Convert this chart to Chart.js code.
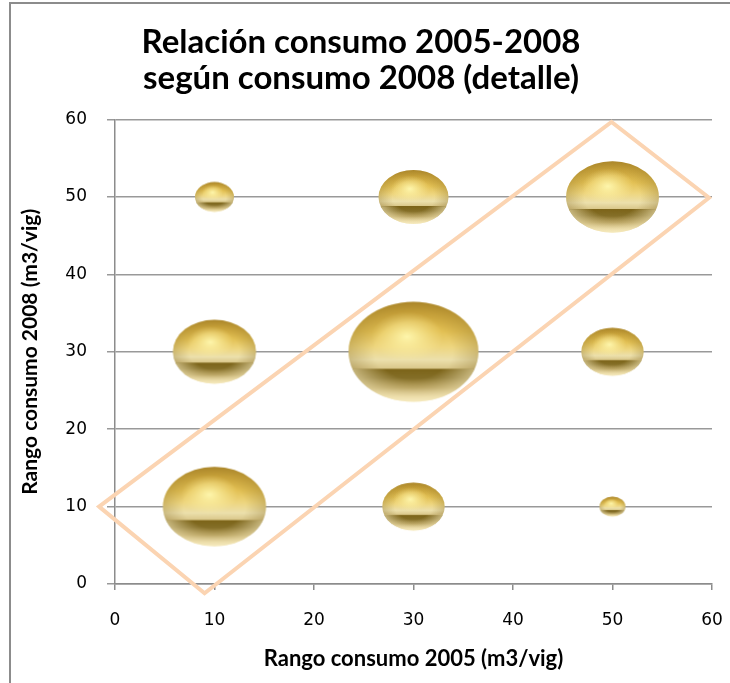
<!DOCTYPE html>
<html>
<head>
<meta charset="utf-8">
<script src="https://cdn.jsdelivr.net/npm/chart.js@4/dist/chart.umd.min.js"></script>
<style>
  html, body { margin: 0; padding: 0; background: #fff; overflow: hidden; }
  #wrap { position: relative; width: 730px; height: 683px; overflow: hidden; }
  #frame { position: absolute; left: 9px; top: 2px; width: 900px; height: 900px;
           border-left: 2px solid #8c8c8c; border-top: 2px solid #8c8c8c; }
  canvas { position: absolute; left: 0; top: 0; }
</style>
</head>
<body>
<div id="wrap">
  <div id="frame"></div>
  <canvas id="chart" width="730" height="683"></canvas>
</div>
<script>
// Bubble data: rango consumo 2005 (x), rango consumo 2008 (y), tamaño relativo
var consumo2005 = [10, 30, 50, 10, 30, 50, 10, 30, 50];
var consumo2008 = [50, 50, 50, 30, 30, 30, 10, 10, 10];
var tamano = [9, 29, 51, 41, 100, 23, 63, 23, 4];

// Marco diagonal (detalle) in axis units
var marcoX = [-1.6, 9, 59.7, 49.9, -1.6, 9];
var marcoY = [10, -1.2, 49.9, 59.7, 10, -1.2];

var ticksEje = [0, 10, 20, 30, 40, 50, 60];

var maxRadio = 65;     // px, horizontal radius of the biggest bubble
var aspecto = 0.77;    // bubbles look like flattened ellipses

function makeBubble(rx, ry) {
    var c = document.createElement('canvas');
    c.width = Math.ceil(rx * 2) + 2;
    c.height = Math.ceil(ry * 2) + 2;
    var g = c.getContext('2d');
    var cx = c.width / 2, cy = c.height / 2;
    var corte = cy - ry + 0.67 * 2 * ry; // where the dark band starts

    g.save();
    g.beginPath();
    g.ellipse(cx, cy, rx, ry, 0, 0, Math.PI * 2);
    g.clip();

    var lg = g.createLinearGradient(0, cy - ry, 0, cy + ry);
    lg.addColorStop(0, '#bf9731');
    lg.addColorStop(0.12, '#d1aa3e');
    lg.addColorStop(0.3, '#e3c155');
    lg.addColorStop(0.45, '#eed67f');
    lg.addColorStop(0.58, '#ece0ac');
    lg.addColorStop(0.665, '#dac88b');
    lg.addColorStop(0.675, '#7c6419');
    lg.addColorStop(0.76, '#846e27');
    lg.addColorStop(0.86, '#ad954e');
    lg.addColorStop(0.95, '#e6d59e');
    lg.addColorStop(1, '#f7edc6');
    g.fillStyle = lg;
    g.fillRect(0, 0, c.width, c.height);

    // highlight
    g.save();
    g.translate(cx - 0.1 * rx, cy - 0.3 * ry);
    g.scale(1, 0.7);
    var rg = g.createRadialGradient(0, 0, 0, 0, 0, rx * 0.55);
    rg.addColorStop(0, 'rgba(255,248,175,0.95)');
    rg.addColorStop(1, 'rgba(255,240,160,0)');
    g.fillStyle = rg;
    g.fillRect(-rx * 2, -ry * 4, rx * 4, ry * 8);
    g.restore();

    // rim: darker on the upper part, lighter on the lower band
    g.save();
    g.translate(cx, cy);
    g.scale(1, ry / rx);
    var eg = g.createRadialGradient(0, 0, rx * 0.6, 0, 0, rx);
    eg.addColorStop(0, 'rgba(120,90,20,0)');
    eg.addColorStop(1, 'rgba(120,92,25,0.28)');
    g.fillStyle = eg;
    g.fillRect(-rx * 2, -rx * 2, rx * 4, (corte - cy) * rx / ry + rx * 2);
    var eg2 = g.createRadialGradient(0, 0, rx * 0.55, 0, 0, rx);
    eg2.addColorStop(0, 'rgba(245,232,185,0)');
    eg2.addColorStop(1, 'rgba(245,232,185,0.6)');
    g.fillStyle = eg2;
    g.fillRect(-rx * 2, (corte - cy) * rx / ry, rx * 4, rx * 2);
    g.restore();

    g.restore();
    return c;
}

var maxTam = Math.max.apply(null, tamano);
var burbujas = [];
var imagenes = [];
for (var i = 0; i < tamano.length; i++) {
    var rx = maxRadio * Math.sqrt(tamano[i] / maxTam);
    burbujas.push({ x: consumo2005[i], y: consumo2008[i], r: rx });
    imagenes.push(makeBubble(rx, rx * aspecto));
}

var marco = [];
for (var j = 0; j < marcoX.length; j++) {
    marco.push({ x: marcoX[j], y: marcoY[j] });
}

var ctx = document.getElementById('chart').getContext('2d');
var myChart = new Chart(ctx, {
    type: 'bubble',
    data: {
        datasets: [{
            type: 'bubble',
            data: burbujas,
            pointStyle: function (c) { return imagenes[c.dataIndex]; },
            backgroundColor: '#d4ac45',
            borderWidth: 0,
            order: 2
        }, {
            type: 'line',
            data: marco,
            borderColor: '#fbd4b2',
            borderWidth: 4,
            borderJoinStyle: 'miter',
            pointRadius: 0,
            fill: false,
            tension: 0,
            clip: false,
            order: 1
        }]
    },
    options: {
        responsive: false,
        animation: false,
        layout: { autoPadding: false, padding: { left: 10, right: 18, top: 0, bottom: 0 } },
        plugins: {
            legend: { display: false },
            tooltip: { enabled: false },
            title: {
                display: true,
                text: ['Relación consumo 2005-2008', 'según consumo 2008 (detalle)'],
                color: '#000',
                font: { family: 'Lato', weight: 'bold', size: 33, lineHeight: 1.1 },
                padding: { top: 24, bottom: 23 }
            }
        },
        scales: {
            x: {
                type: 'linear',
                min: 0,
                max: 60,
                afterBuildTicks: function (s) { s.ticks = ticksEje.map(function (v) { return { value: v }; }); },
                afterFit: function (s) { s.height = 99; s.paddingLeft = 0; s.paddingRight = 0; },
                grid: { drawOnChartArea: false, drawTicks: true, tickLength: 6, color: '#8c8c8c', lineWidth: 1.5 },
                border: { color: '#8c8c8c', width: 1.5 },
                ticks: { color: '#000', padding: 20, font: { family: 'DejaVu Sans', size: 17 } },
                title: {
                    display: true,
                    text: 'Rango consumo 2005 (m3/vig)',
                    color: '#000',
                    font: { family: 'Lato', weight: 'bold', size: 22 },
                    padding: { top: 0, bottom: 11 }
                }
            },
            y: {
                type: 'linear',
                min: 0,
                max: 60,
                afterBuildTicks: function (s) { s.ticks = ticksEje.map(function (v) { return { value: v }; }); },
                afterFit: function (s) { s.width = 105; s.paddingTop = 0; s.paddingBottom = 0; },
                grid: { drawTicks: true, tickLength: 8, color: '#999999', lineWidth: 1.5 },
                border: { color: '#8c8c8c', width: 1.5 },
                ticks: { color: '#000', padding: 20, font: { family: 'DejaVu Sans', size: 17 } },
                title: {
                    display: true,
                    text: 'Rango consumo 2008 (m3/vig)',
                    color: '#000',
                    font: { family: 'Lato', weight: 'bold', size: 21 },
                    padding: { top: 8, bottom: 0 }
                }
            }
        }
    }
});
</script>
</body>
</html>
